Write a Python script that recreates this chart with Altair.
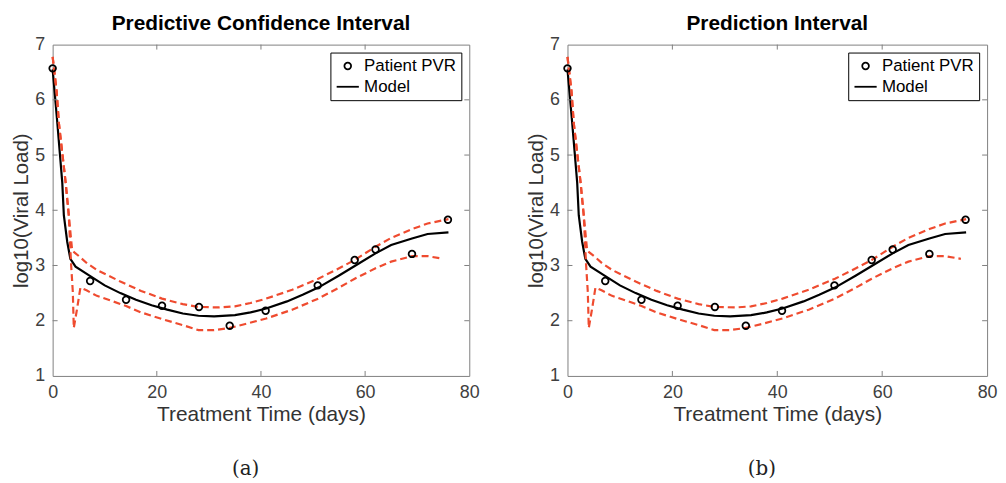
import altair as alt
import pandas as pd

# ---------------- data ----------------
legend_names = ["Patient PVR", "Model"]

pvr_day = [0, 7.2, 14.1, 21.0, 28.1, 34.0, 40.9, 50.9, 58.0, 62.0, 69.0, 75.9]
pvr_val = [6.57, 2.72, 2.38, 2.27, 2.25, 1.91, 2.18, 2.64, 3.10, 3.29, 3.21, 3.83]

model_day = [0, 0.9, 1.85, 2.15, 2.8, 3.4, 4.4, 7, 10, 13, 16, 19, 22, 25, 28, 31,
             35, 38, 41, 45, 48, 51, 55, 58, 62, 65, 69, 72, 76]
model_val = [6.55, 5.58, 4.5, 3.91, 3.43, 3.12, 2.98, 2.82, 2.64, 2.5, 2.38, 2.28, 2.2,
             2.13, 2.09, 2.08, 2.1, 2.15, 2.22, 2.35, 2.47, 2.6, 2.82, 2.99, 3.22, 3.37,
             3.49, 3.57, 3.6]

upper_day = [0, 0.75, 1.2, 1.85, 2.5, 3.1, 3.75, 5.3, 6.6, 8.5, 10.4, 13, 17, 21, 25,
             28, 32, 35, 38, 41, 46, 51, 55, 58, 62, 65, 69, 72, 76]
upper_val = [6.78, 6.17, 5.58, 5.04, 4.5, 3.91, 3.27, 3.15, 3.04, 2.92, 2.83, 2.71, 2.54,
             2.4, 2.3, 2.25, 2.24, 2.26, 2.32, 2.4, 2.56, 2.76, 2.95, 3.1, 3.34, 3.5, 3.66,
             3.76, 3.84]

lower_day = [0, 0.75, 1.2, 1.85, 2.5, 3.1, 3.55, 3.87, 4.06, 4.7, 5.33, 6.5, 8.5, 11, 14,
             17, 21, 25, 28, 31, 34, 37, 41, 46, 51, 55, 58, 62, 65, 69, 72, 75]
lower_val = [6.78, 6.17, 5.58, 5.04, 4.5, 3.91, 3.01, 2.53, 1.87, 2.22, 2.6, 2.55, 2.45,
             2.37, 2.27, 2.15, 2.03, 1.92, 1.83, 1.83, 1.87, 1.94, 2.04, 2.2, 2.4, 2.6,
             2.76, 2.95, 3.07, 3.17, 3.17, 3.12]

x_tick_vals = [0, 20, 40, 60, 80]
y_tick_vals = [1, 2, 3, 4, 5, 6, 7]
x_inner_ticks = [20, 40, 60]
y_inner_ticks = [2, 3, 4, 5, 6]

titles = ["Predictive Confidence Interval", "Prediction Interval"]
captions = ["(a)", "(b)"]

# ---------------- tables ----------------
pts_df = pd.DataFrame({"day": pvr_day, "val": pvr_val, "series": "Patient PVR"})
model_df = pd.DataFrame({"day": model_day, "val": model_val})
bounds_df = pd.concat([
    pd.DataFrame({"day": upper_day, "val": upper_val, "bound": "upper"}),
    pd.DataFrame({"day": lower_day, "val": lower_val, "bound": "lower"}),
])
xt_df = pd.DataFrame({"v": x_inner_ticks})
yt_df = pd.DataFrame({"v": y_inner_ticks})

FRAME = "#808080"
FONT = "Liberation Sans"
RED = "#ef4b2f"

xs = alt.Scale(domain=[0, 80], nice=False, zero=False)
ys = alt.Scale(domain=[1, 7], nice=False, zero=False)
xaxis = alt.Axis(title="Treatment Time (days)", values=x_tick_vals, labelFlush=False,
                 labelPadding=8, titlePadding=2, titleFontSize=21)
yaxis = alt.Axis(title="log10(Viral Load)", values=y_tick_vals, labelPadding=8,
                 titlePadding=3, titleFontSize=20.5)

leg = alt.Legend(title=None, orient="top-right", offset=8, strokeColor="black",
                 fillColor="white", padding=5, rowPadding=0, labelFontSize=17,
                 labelFont=FONT, labelColor="black", symbolStrokeColor="black",
                 symbolStrokeWidth=1.8, labelOffset=4, labelLimit=300)


def panel(i, width, height=334):
    model = alt.Chart(model_df).mark_line(color="black", strokeWidth=2.2).encode(
        x=alt.X("day:Q", scale=xs, axis=xaxis),
        y=alt.Y("val:Q", scale=ys, axis=yaxis),
    )
    bounds = alt.Chart(bounds_df).mark_line(color=RED, strokeWidth=2.2, strokeDash=[7, 4]).encode(
        x=alt.X("day:Q", scale=xs, axis=xaxis),
        y=alt.Y("val:Q", scale=ys, axis=yaxis),
        detail="bound:N",
    )
    pts = alt.Chart(pts_df).mark_point(filled=False, color="black", strokeWidth=1.8,
                                      opacity=1).encode(
        x=alt.X("day:Q", scale=xs, axis=xaxis),
        y=alt.Y("val:Q", scale=ys, axis=yaxis),
        shape=alt.Shape("series:N", scale=alt.Scale(domain=legend_names,
                                                    range=["circle", "stroke"]), legend=leg),
        size=alt.Size("series:N", scale=alt.Scale(domain=legend_names, range=[45, 500]),
                      legend=leg),
    )
    xt_bot = alt.Chart(xt_df).mark_rule(color=FRAME, strokeWidth=1).encode(
        x=alt.X("v:Q", scale=xs, axis=xaxis), y=alt.value(height), y2=alt.value(height - 5))
    xt_top = alt.Chart(xt_df).mark_rule(color=FRAME, strokeWidth=1).encode(
        x=alt.X("v:Q", scale=xs, axis=xaxis), y=alt.value(0), y2=alt.value(5))
    yt_left = alt.Chart(yt_df).mark_rule(color=FRAME, strokeWidth=1).encode(
        y=alt.Y("v:Q", scale=ys, axis=yaxis), x=alt.value(0), x2=alt.value(5))
    yt_right = alt.Chart(yt_df).mark_rule(color=FRAME, strokeWidth=1).encode(
        y=alt.Y("v:Q", scale=ys, axis=yaxis), x=alt.value(width - 5), x2=alt.value(width))

    layer = alt.layer(model, bounds, pts, xt_bot, xt_top, yt_left, yt_right).properties(
        width=width, height=height,
        title=alt.Title(titles[i], font=FONT, fontSize=21, fontWeight="bold",
                        color="black", offset=2, anchor="middle", frame="group"),
    )
    return alt.vconcat(layer, title=alt.Title(captions[i], orient="bottom",
                                              font="DejaVu Serif", fontSize=20,
                                              fontWeight="normal", color="#222222",
                                              offset=34, anchor="middle")
                       ).resolve_scale(shape="independent", size="independent"
                       ).resolve_legend(shape="independent", size="independent")


chart = alt.hconcat(panel(0, 420), panel(1, 423), spacing=46).resolve_scale(
    shape="independent", size="independent"
).resolve_legend(shape="independent", size="independent").properties(
    padding={"left": 3, "top": 2, "right": 0, "bottom": 0}
).configure_view(
    stroke=FRAME, strokeWidth=1
).configure_axis(
    grid=False, domain=False, ticks=False, tickSize=0,
    labelFont=FONT, labelFontSize=18, labelColor="#404040",
    titleFont=FONT, titleFontWeight="normal", titleColor="#333333",
)

chart.save("out.html", embed_options={"renderer": "svg", "actions": False})
